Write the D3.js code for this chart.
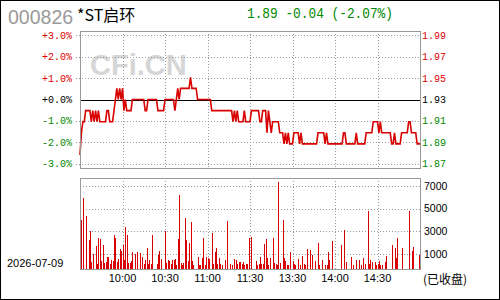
<!DOCTYPE html>
<html>
<head>
<meta charset="utf-8">
<script src="https://cdn.jsdelivr.net/npm/d3@7"></script>
<style>
  body { margin: 0; background: #fff; }
  svg { display: block; }
</style>
</head>
<body>
<script>
const stockCode = "000826";
const stockName = "*ST启环";
const tradeDate = "2026-07-09";
const closedLabel = "(已收盘)";
const watermark = "CFi.CN";
const prevClose = 1.93;

// one price per minute, 9:30 .. 11:30 then 13:00 .. 15:00 (241 points)
const prices = [
  1.88,1.90,1.91,1.91,1.92,1.92,1.92,1.92,1.91,1.92,
  1.91,1.92,1.91,1.92,1.91,1.91,1.91,1.91,1.91,1.92,
  1.92,1.91,1.91,1.91,1.92,1.93,1.94,1.93,1.94,1.93,
  1.94,1.92,1.93,1.92,1.92,1.92,1.92,1.93,1.93,1.93,
  1.93,1.93,1.93,1.93,1.93,1.93,1.92,1.92,1.93,1.93,
  1.93,1.93,1.93,1.93,1.93,1.92,1.92,1.92,1.92,1.92,
  1.93,1.93,1.93,1.93,1.93,1.93,1.93,1.92,1.93,1.94,
  1.93,1.94,1.94,1.94,1.94,1.94,1.94,1.94,1.95,1.94,
  1.94,1.94,1.94,1.93,1.93,1.93,1.93,1.93,1.93,1.93,
  1.93,1.93,1.93,1.92,1.92,1.92,1.92,1.92,1.92,1.92,
  1.92,1.92,1.92,1.92,1.92,1.92,1.92,1.92,1.91,1.92,
  1.91,1.92,1.91,1.91,1.91,1.91,1.92,1.91,1.91,1.91,
  1.91,1.92,1.92,1.92,1.92,1.92,1.92,1.91,1.91,1.92,
  1.92,1.92,1.90,1.92,1.91,1.90,1.91,1.91,1.91,1.91,
  1.91,1.90,1.90,1.90,1.89,1.90,1.89,1.90,1.89,1.89,
  1.89,1.90,1.90,1.90,1.90,1.89,1.90,1.89,1.89,1.89,
  1.89,1.89,1.89,1.89,1.89,1.89,1.89,1.89,1.90,1.90,
  1.90,1.90,1.90,1.89,1.90,1.89,1.89,1.89,1.89,1.89,
  1.89,1.89,1.89,1.89,1.89,1.89,1.90,1.90,1.89,1.89,
  1.89,1.89,1.89,1.89,1.89,1.90,1.89,1.89,1.89,1.89,
  1.89,1.89,1.90,1.90,1.90,1.90,1.90,1.91,1.91,1.91,
  1.91,1.90,1.91,1.90,1.90,1.90,1.90,1.90,1.90,1.90,
  1.89,1.89,1.90,1.89,1.89,1.89,1.89,1.90,1.90,1.90,
  1.90,1.90,1.91,1.91,1.90,1.90,1.90,1.90,1.89,1.89,
  1.89
];

// volume per minute, same minutes as prices
const volumes = [
  0,4000,5940,0,4350,0,2235,3000,294,1000,
  0,1700,120,2410,2320,380,1800,200,294,735,
  735,120,470,380,2680,2410,294,560,1440,1265,
  1800,470,3380,2680,200,200,380,1175,0,1000,
  1175,0,1090,0,735,120,470,1530,120,470,
  120,2680,0,0,120,910,1265,560,0,0,
  3030,200,470,380,120,470,470,560,60,2320,
  6200,200,60,200,4180,2235,380,1970,3820,380,
  60,0,0,735,60,60,650,2410,60,735,
  650,560,0,2850,120,1175,1530,120,650,120,
  60,0,470,0,3900,0,120,60,0,560,
  470,120,294,294,120,294,60,120,120,2400,
  0,2530,0,0,380,60,120,735,120,120,
  1880,2320,650,60,650,0,2410,200,120,60,
  7350,200,0,4000,650,380,60,60,1175,0,
  380,120,60,0,560,60,0,825,120,60,
  1440,0,1350,0,910,0,380,0,1970,60,
  0,470,0,60,60,1175,470,0,2150,0,
  0,0,0,0,1800,0,3120,0,294,0,
  0,735,0,60,0,470,0,470,60,0,
  650,120,0,4790,120,470,294,0,294,60,
  120,380,60,60,0,294,825,0,0,0,
  1800,0,1530,650,2410,0,0,1530,0,0,
  0,0,4790,0,1265,1620,0,0,0,910,
  0
];

const timeMinutes = [30, 60, 90, 120, 150, 180, 210];
const timeLabels = ["10:00", "10:30", "11:00", "11:30", "13:30", "14:00", "14:30"];
const pctTicks = [3, 2, 1, 0, -1, -2, -3];
const volTicks = [7000, 5000, 3000, 1000];

const width = 500, height = 300;
const left = 80, right = 420;
const priceTop = 31, priceBottom = 168;
const volTop = 178, volBottom = 269;
const red = "#e00000", green = "#008800", gridColor = "#9a9a9a";
const mono = "'Liberation Mono', 'DejaVu Sans Mono', monospace";
const sans = "'Liberation Sans', Arial, sans-serif";
const cjk = "'Noto Sans CJK SC', sans-serif";

const svg = d3.select("body").append("svg")
  .attr("width", width)
  .attr("height", height);

const x = d3.scaleLinear().domain([0, prices.length - 1]).range([left, right]);
const yPct = d3.scaleLinear().domain([-3.2, 3.2]).range([priceBottom, priceTop]);
const yVol = d3.scaleLinear().domain([-330, 7700]).range([volBottom, volTop]);
const pct = (p) => (p / prevClose - 1) * 100;
const crisp = (v) => Math.round(v) + 0.5;
const tickColor = (t) => (t > 0 ? red : t < 0 ? green : "#000");

// header
svg.append("text")
  .attr("x", 8).attr("y", 24)
  .attr("font-family", sans).attr("font-size", 19.5)
  .attr("fill", "#9a9a9a")
  .text(stockCode);

svg.append("text")
  .attr("x", 77).attr("y", 21)
  .attr("font-family", cjk).attr("font-size", 16)
  .attr("fill", "#000")
  .text(stockName);

const last = prices[prices.length - 1];
const change = last - prevClose;
svg.append("text")
  .attr("x", 247).attr("y", 18)
  .attr("font-family", mono).attr("font-size", 14)
  .attr("fill", change >= 0 ? red : green)
  .attr("textLength", 146).attr("lengthAdjust", "spacingAndGlyphs")
  .text(`${last.toFixed(2)} ${change.toFixed(2)} (${((change / prevClose) * 100).toFixed(2)}%)`);

// watermark
svg.append("text")
  .attr("x", 90).attr("y", 75)
  .attr("font-family", sans).attr("font-size", 29).attr("font-weight", "bold")
  .attr("fill", "#d6d6d6")
  .text(watermark);

// grid
const gGrid = svg.append("g")
  .attr("stroke", gridColor)
  .attr("stroke-dasharray", "1,2")
  .attr("shape-rendering", "crispEdges");

gGrid.selectAll(".hp")
  .data(pctTicks.filter((t) => t !== 0))
  .join("line")
  .attr("x1", left - 4).attr("x2", right)
  .attr("y1", (d) => crisp(yPct(d))).attr("y2", (d) => crisp(yPct(d)));

gGrid.selectAll(".hv")
  .data(volTicks)
  .join("line")
  .attr("class", "hv")
  .attr("x1", left).attr("x2", right)
  .attr("y1", (d) => crisp(yVol(d))).attr("y2", (d) => crisp(yVol(d)));

[[priceTop, priceBottom], [volTop, volBottom]].forEach(([y0, y1]) => {
  gGrid.append("g").selectAll("line")
    .data(timeMinutes)
    .join("line")
    .attr("x1", (d) => crisp(x(d))).attr("x2", (d) => crisp(x(d)))
    .attr("y1", y0).attr("y2", y1);
});

// previous close line
svg.append("line")
  .attr("x1", left).attr("x2", right)
  .attr("y1", crisp(yPct(0))).attr("y2", crisp(yPct(0)))
  .attr("stroke", "#000")
  .attr("shape-rendering", "crispEdges");

// axis labels
svg.append("g").selectAll("text")
  .data(pctTicks)
  .join("text")
  .attr("x", 72).attr("y", (d) => yPct(d)).attr("dy", "0.35em")
  .attr("text-anchor", "end")
  .attr("font-family", mono).attr("font-size", 10)
  .attr("fill", tickColor)
  .text((d) => (d >= 0 ? "+" : "") + d.toFixed(1) + "%");

svg.append("g").selectAll("text")
  .data(pctTicks)
  .join("text")
  .attr("x", 422).attr("y", (d) => yPct(d)).attr("dy", "0.35em")
  .attr("font-family", mono).attr("font-size", 10)
  .attr("fill", tickColor)
  .text((d) => (prevClose * (1 + d / 100)).toFixed(2));

svg.append("g").selectAll("text")
  .data(volTicks)
  .join("text")
  .attr("x", 424).attr("y", (d) => yVol(d)).attr("dy", "0.35em")
  .attr("font-family", sans).attr("font-size", 10.5)
  .attr("fill", "#000")
  .text((d) => d);

svg.append("g").selectAll("text")
  .data(timeMinutes)
  .join("text")
  .attr("x", (d) => x(d)).attr("y", 282)
  .attr("text-anchor", "middle")
  .attr("font-family", sans).attr("font-size", 11)
  .attr("fill", "#000")
  .text((d, i) => timeLabels[i]);

svg.append("text")
  .attr("x", 7).attr("y", 267)
  .attr("font-family", sans).attr("font-size", 11)
  .attr("fill", "#000")
  .text(tradeDate);

svg.append("text")
  .attr("x", 423).attr("y", 284)
  .attr("font-family", cjk).attr("font-size", 12)
  .attr("fill", "#000")
  .text(closedLabel);

// volume bars
svg.append("g")
  .attr("fill", "#d80000")
  .attr("shape-rendering", "crispEdges")
  .selectAll("rect")
  .data(volumes.map((v, i) => ({ i, v })).filter((d) => d.v > 0))
  .join("rect")
  .attr("x", (d) => Math.round(x(d.i)))
  .attr("width", 1)
  .attr("y", (d) => yVol(d.v))
  .attr("height", (d) => volBottom - yVol(d.v));

// price line
const line = d3.line()
  .x((d, i) => x(i))
  .y((d) => yPct(pct(d)));

svg.append("path")
  .datum(prices)
  .attr("fill", "none")
  .attr("stroke", "#d80000")
  .attr("stroke-width", 1.6)
  .attr("stroke-linejoin", "miter")
  .attr("d", line);

// frames
const gFrame = svg.append("g")
  .attr("fill", "none")
  .attr("stroke", "#999")
  .attr("shape-rendering", "crispEdges");

gFrame.append("rect")
  .attr("x", left + 0.5).attr("y", priceTop + 0.5)
  .attr("width", right - left).attr("height", priceBottom - priceTop);

gFrame.append("rect")
  .attr("x", left + 0.5).attr("y", volTop + 0.5)
  .attr("width", right - left).attr("height", volBottom - volTop);

// outer border
svg.append("rect")
  .attr("x", 0.5).attr("y", 0.5)
  .attr("width", width - 1.5).attr("height", height - 1.5)
  .attr("fill", "none")
  .attr("stroke", "#000")
  .attr("stroke-width", 1)
  .attr("shape-rendering", "crispEdges");

svg.append("path")
  .attr("d", `M${width - 0.5},0V${height - 0.5}H0`)
  .attr("fill", "none")
  .attr("stroke", "#000")
  .attr("shape-rendering", "crispEdges");
</script>
</body>
</html>
